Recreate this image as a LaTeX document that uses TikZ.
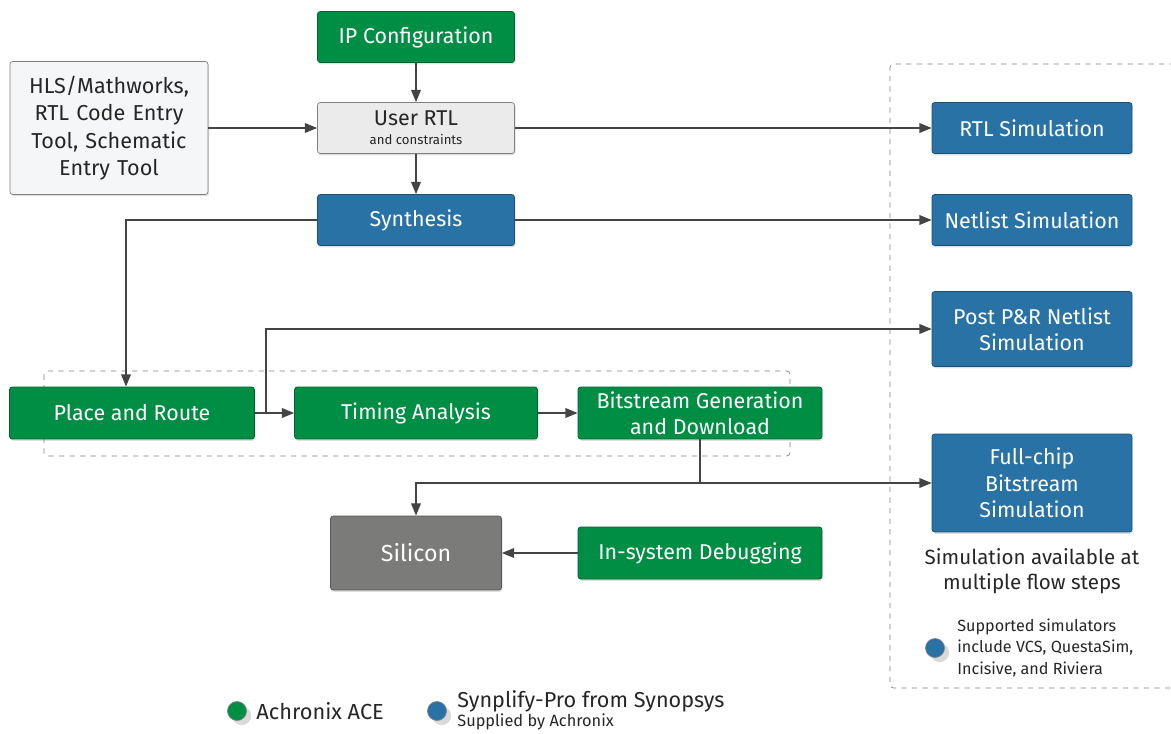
\documentclass[tikz,border=0pt]{standalone}
\usepackage{fontspec}
\setmainfont{Fira Sans}
\usepackage{xcolor}
\usepackage{tikz}
\usetikzlibrary{positioning,arrows.meta,shadows}
\definecolor{AceGreen}{RGB}{0,141,68}
\definecolor{SynBlue}{RGB}{40,114,166}
\definecolor{SiGray}{RGB}{123,123,122}
\definecolor{LineGray}{RGB}{68,68,68}
\definecolor{BoxGray}{RGB}{235,235,235}
\definecolor{PaleGray}{RGB}{245,246,247}

\begin{document}
\begin{tikzpicture}[x=0.02cm, y=-0.02cm, font=\fontsize{12.2}{15}\selectfont, >={Triangle[length=7pt,width=5.5pt]}]
      \tikzset{
        base/.style={rounded corners=1.5pt, align=center, inner sep=2pt, drop shadow={opacity=0.25, shadow xshift=0.6pt, shadow yshift=-1pt}},
        ace/.style={base, draw=AceGreen!70!black, fill=AceGreen, text=white, minimum width=3.94cm, minimum height=1.02cm},
        syn/.style={base, draw=SynBlue!70!black, fill=SynBlue, text=white, minimum width=3.94cm, minimum height=1.02cm},
        sim/.style={syn, minimum width=4.0cm},
        plain/.style={base, draw=gray, fill=BoxGray, text=black!85, minimum width=3.94cm, minimum height=1.02cm},
        group/.style={draw=gray, dashed, rounded corners=2pt},
        dot/.style={circle, draw=gray, minimum size=0.38cm, inner sep=0pt, drop shadow={opacity=0.3}},
        note/.style={anchor=west, align=left, text=black!85, inner sep=0pt},
        arrow/.style={->, draw=LineGray, line width=0.9pt}
      }
      \useasboundingbox (0,0) rectangle (1171,734);

      % dashed groups
      \draw[group] (44,371) rectangle (790,456);
      \draw[group] (1175,64) -- (890,64) -- (890,688) -- (1175,688);

      % design entry
      \node[ace] (ipconf) at (416,37) {IP Configuration};
      \node[plain, fill=PaleGray, minimum width=3.96cm, minimum height=2.66cm, text width=3.7cm, font=\fontsize{12.3}{15.5}\selectfont] (hls) at (109,128)
        {HLS/Mathworks,\\RTL Code Entry\\Tool, Schematic\\Entry Tool};
      \node[plain] (userrtl) at (416,128) {User RTL\\[-4pt]{\fontsize{7.5}{9}\selectfont and constraints}};
      \node[syn] (synth) at (416,220) {Synthesis};

      % implementation
      \node[ace, minimum width=4.9cm, minimum height=1.04cm] (pnr) at (132,413) {Place and Route};
      \node[ace, minimum width=4.86cm, minimum height=1.04cm] (timing) at (416,413) {Timing Analysis};
      \node[ace, minimum width=4.88cm, minimum height=1.04cm] (bitgen) at (700,413) {Bitstream Generation\\and Download};
      \node[base, draw=SiGray!70!black, fill=SiGray, text=white, minimum width=3.42cm, minimum height=1.48cm, font=\fontsize{13.2}{15}\selectfont] (silicon) at (416,553) {Silicon};
      \node[ace, minimum width=4.88cm, minimum height=1.04cm] (debug) at (700,553) {In-system Debugging};

      % simulation
      \node[sim] (rtlsim) at (1032,128) {RTL Simulation};
      \node[sim] (netsim) at (1032,220) {Netlist Simulation};
      \node[sim, minimum height=1.5cm] (postsim) at (1032,329) {Post P\&R Netlist\\Simulation};
      \node[sim, minimum height=1.96cm] (fullsim) at (1032,483) {Full-chip\\Bitstream\\Simulation};
      \node[align=center, text=black!85, font=\fontsize{11.7}{14}\selectfont] (simtext) at (1032,571) {Simulation available at\\multiple flow steps};
      \node[dot, fill=SynBlue] (simdot) at (935,648) {};
      \node[note, font=\fontsize{9.2}{12.5}\selectfont] (simnote) at (957,648) {Supported simulators\\include VCS, QuestaSim,\\Incisive, and Riviera};

      % legend
      \node[dot, fill=AceGreen] (acedot) at (237,711) {};
      \node[note, font=\fontsize{12.4}{14}\selectfont] (acetext) at (256,711) {Achronix ACE};
      \node[dot, fill=SynBlue] (syndot) at (437,711) {};
      \node[note, font=\fontsize{12.3}{14}\selectfont] (syntext) at (457,701) {Synplify-Pro from Synopsys};
      \node[note, font=\fontsize{9.3}{10}\selectfont] (synsub) at (457,722) {Supplied by Achronix};

      \draw[arrow] (ipconf) -- (userrtl);
      \draw[arrow] (hls) -- (userrtl);
      \draw[arrow] (userrtl) -- (rtlsim);
      \draw[arrow] (userrtl) -- (synth);
      \draw[arrow] (synth) -- (netsim);
      \draw[arrow] (synth.west) -| ([xshift=-0.12cm]pnr.north);
      \draw[arrow] (pnr) -- (timing);
      \coordinate (branch) at ([xshift=0.22cm]pnr.east);
      \draw[arrow] (branch) |- (postsim.west);
      \draw[arrow] (timing) -- (bitgen);
      \coordinate (split) at (bitgen.south |- fullsim.west);
      \draw[arrow] (bitgen.south) |- (fullsim.west);
      \draw[arrow] (split) -| (silicon.north);
      \draw[arrow] (debug) -- (silicon);
    \end{tikzpicture}
\end{document}
